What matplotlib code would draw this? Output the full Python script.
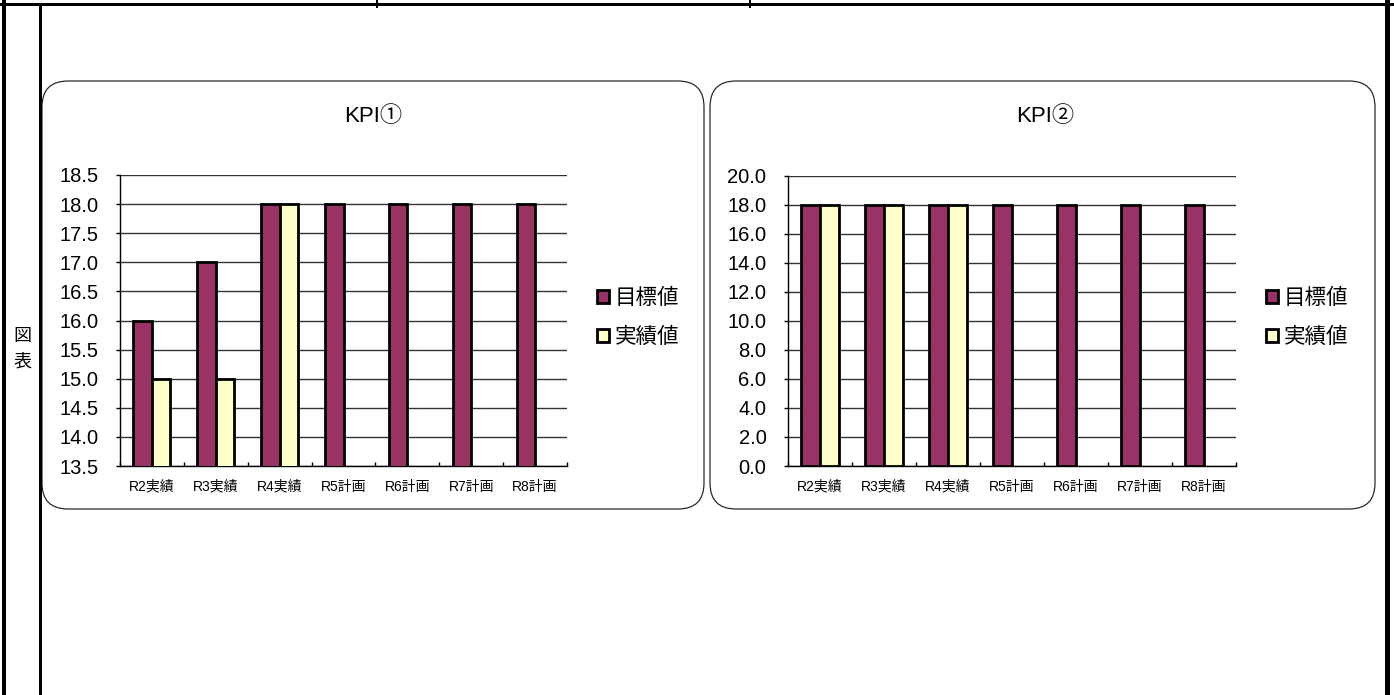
import matplotlib
matplotlib.use("Agg")
import matplotlib.pyplot as plt
import numpy as np
from matplotlib.patches import FancyBboxPatch
from matplotlib.lines import Line2D

plt.rcParams['font.family'] = ['Liberation Sans', 'Noto Sans CJK JP', 'DejaVu Sans']

categories = ['R2実績', 'R3実績', 'R4実績', 'R5計画', 'R6計画', 'R7計画', 'R8計画']
kpi1_target = [16.0, 17.0, 18.0, 18.0, 18.0, 18.0, 18.0]
kpi1_actual = [15.0, 15.0, 18.0, np.nan, np.nan, np.nan, np.nan]
kpi2_target = [18.0, 18.0, 18.0, 18.0, 18.0, 18.0, 18.0]
kpi2_actual = [18.0, 18.0, 18.0, np.nan, np.nan, np.nan, np.nan]
series_names = ['目標値', '実績値']
titles = ['KPI①', 'KPI②']
side_label = ['図', '表']

W, H = 1394, 695
fig = plt.figure(figsize=(W / 100, H / 100), dpi=100)

bg = fig.add_axes([0, 0, 1, 1])
bg.set_xlim(0, W)
bg.set_ylim(H, 0)
bg.axis('off')

def px(lw):
    return lw * 72 / 100

# outer frame
bg.add_line(Line2D([4, 4], [0, H], color='black', lw=px(4)))
bg.add_line(Line2D([40, 40], [4, H], color='black', lw=px(3)))
bg.add_line(Line2D([0, W], [4, 4], color='black', lw=px(3)))
bg.add_line(Line2D([1387, 1387], [0, H], color='black', lw=px(5)))
for xt in (377, 750):
    bg.add_line(Line2D([xt, xt], [0, 7], color='black', lw=px(2)))

bg.text(22, 336, side_label[0], ha='center', va='center', fontsize=13)
bg.text(22, 362, side_label[1], ha='center', va='center', fontsize=13)

# panels
for (x0, x1) in [(42, 704), (710, 1375)]:
    p = FancyBboxPatch((x0, 81), x1 - x0, 509 - 81,
                       boxstyle='round,pad=0,rounding_size=26',
                       fc='white', ec='#222222', lw=px(1.2))
    bg.add_patch(p)

c_target = '#993366'
c_actual = '#FFFFCC'

def make_chart(left, right, top, bottom, target, actual, ylim, step, title, tx, legxy):
    ax = fig.add_axes([left / W, 1 - bottom / H, (right - left) / W, (bottom - top) / H])
    x = np.arange(len(categories))
    w = 0.29
    b1 = ax.bar(x - w / 2, target, w, color=c_target, edgecolor='black', lw=2.0, zorder=3, label=series_names[0])
    b2 = ax.bar(x + w / 2, actual, w, color=c_actual, edgecolor='black', lw=2.0, zorder=3, label=series_names[1])
    ax.set_xlim(-0.5, len(categories) - 0.5)
    ax.set_ylim(*ylim)
    yt = np.arange(ylim[0], ylim[1] + step / 2, step)
    ax.set_yticks(yt)
    ax.set_yticklabels([f'{v:.1f}' for v in yt], fontsize=14.5)
    ax.yaxis.grid(True, color='#333333', lw=1.0, zorder=0)
    ax.set_axisbelow(True)
    ax.set_xticks(x)
    ax.set_xticklabels(categories, fontsize=10)
    ax.set_xticks(np.arange(-0.5, len(categories) + 0.5, 1), minor=True)
    ax.tick_params(axis='x', which='major', length=0, pad=10)
    ax.tick_params(axis='x', which='minor', length=3, direction='in', width=1)
    ax.tick_params(axis='y', length=3, width=1, pad=12.5)
    for s in ['top', 'right']:
        ax.spines[s].set_visible(False)
    ax.spines['left'].set_lw(1.0)
    ax.spines['bottom'].set_lw(1.0)
    ax.patch.set_alpha(0)
    bg.text(tx, 117, title, ha='center', va='center', fontsize=16)
    ax.legend(handles=[b1, b2], loc='upper left', bbox_to_anchor=legxy,
              bbox_transform=bg.transData, frameon=False, fontsize=15.5,
              handlelength=0.55, handleheight=0.55, handletextpad=0.28,
              labelspacing=0.82, borderpad=0, borderaxespad=0)
    return ax

make_chart(120, 567, 175, 466, kpi1_target, kpi1_actual, (13.5, 18.5), 0.5, titles[0], 373, (597, 288))
make_chart(788, 1236, 176, 466, kpi2_target, kpi2_actual, (0.0, 20.0), 2.0, titles[1], 1045, (1266, 288))

fig.savefig('out.png', dpi=100)
